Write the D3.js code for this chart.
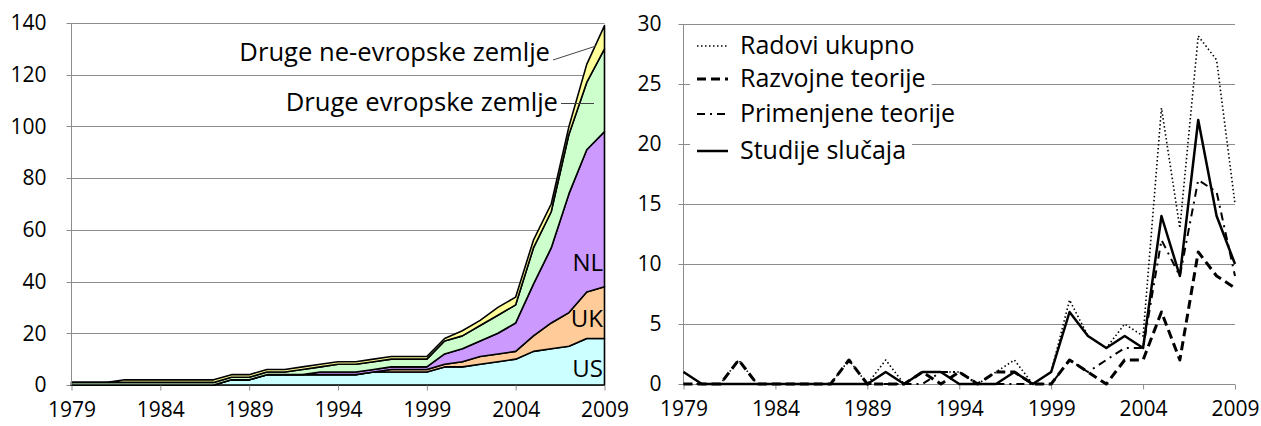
<!DOCTYPE html>
<html>
<head>
<meta charset="utf-8">
<script src="https://cdn.jsdelivr.net/npm/d3@7"></script>
<style>
  body { margin: 0; background: #fff; }
  text { font-family: "Open Sans", "Noto Sans", sans-serif; fill: #000; }
</style>
</head>
<body>
<div id="chart-area"></div>
<script>
// Years shared by both panels
var years = d3.range(1979, 2010);
var xTicks = [1979, 1984, 1989, 1994, 1999, 2004, 2009];

// Left panel: stacked areas (papers by country)
var countryKeys = ["US", "UK", "NL", "Druge evropske zemlje", "Druge ne-evropske zemlje"];
var usValues    = [0,0,0,0,0,0,0,0,0,2,2,4,4,4,4,4,4,5,5,5,5,7,7,8,9,10,13,14,15,18,18];
var ukValues    = [0,0,0,0,0,0,0,0,0,0,0,0,0,0,0,0,0,0,1,1,1,1,2,3,3,3,6,10,13,18,20];
var nlValues    = [0,0,0,0,0,0,0,0,0,0,0,0,0,0,1,1,1,1,1,1,1,4,5,6,8,11,20,29,46,55,60];
var euValues    = [1,1,1,1,1,1,1,1,1,1,1,1,1,2,2,3,3,3,3,3,3,5,5,6,7,7,14,14,23,26,32];
var nonEuValues = [0,0,0,1,1,1,1,1,1,1,1,1,1,1,1,1,1,1,1,1,1,1,2,2,3,3,3,3,3,7,9];
var countryColors = ["#ccffff", "#ffcc99", "#cc99ff", "#ccffcc", "#ffff99"];
var leftYTicks = [0, 20, 40, 60, 80, 100, 120, 140];

// Right panel: line series (papers by type)
var typeNames = ["Radovi ukupno", "Razvojne teorije", "Primenjene teorije", "Studije slučaja"];
var radoviUkupno  = [1,0,0,2,0,0,0,0,0,2,0,2,0,1,1,1,0,1,2,0,1,7,4,3,5,4,23,13,29,27,15];
var razvojne      = [0,0,0,2,0,0,0,0,0,2,0,0,0,1,0,1,0,1,1,0,0,2,1,0,2,2,6,2,11,9,8];
var primenjene    = [0,0,0,0,0,0,0,0,0,0,0,0,0,0,1,1,0,0,0,0,0,2,1,2,3,3,12,9,17,16,9];
var studijeSlucaja= [1,0,0,0,0,0,0,0,0,0,0,1,0,1,1,0,0,0,1,0,1,6,4,3,4,3,14,9,22,14,10];
var rightYTicks = [0, 5, 10, 15, 20, 25, 30];

var svg = d3.select("#chart-area").append("svg")
    .attr("width", 1261)
    .attr("height", 426);

var gridColor = "#8c8c8c";
var fontSize = 21;
var labelSize = 25;

/******************************** Left panel ********************************/

var xL = d3.scaleLinear().domain([1979, 2009]).range([71.5, 604.5]);
var yL = d3.scaleLinear().domain([0, 140]).range([385, 23]);

var gL = svg.append("g");

gL.selectAll(".grid")
    .data(leftYTicks)
    .enter().append("line")
    .attr("x1", xL.range()[0] - 5)
    .attr("x2", xL.range()[1])
    .attr("y1", function(d) { return Math.round(yL(d)) + 0.5; })
    .attr("y2", function(d) { return Math.round(yL(d)) + 0.5; })
    .attr("stroke", gridColor)
    .attr("stroke-width", 1);

var rows = years.map(function(yr, i) {
    return {
        year: yr,
        "US": usValues[i],
        "UK": ukValues[i],
        "NL": nlValues[i],
        "Druge evropske zemlje": euValues[i],
        "Druge ne-evropske zemlje": nonEuValues[i]
    };
});

var stack = d3.stack().keys(countryKeys);
var layers = stack(rows);

var area = d3.area()
    .x(function(d) { return xL(d.data.year); })
    .y0(function(d) { return yL(d[0]); })
    .y1(function(d) { return yL(d[1]); });

gL.selectAll(".layer")
    .data(layers)
    .enter().append("path")
    .attr("class", "layer")
    .attr("d", area)
    .attr("fill", function(d, i) { return countryColors[i]; })
    .attr("stroke", "#000")
    .attr("stroke-width", 1.6)
    .attr("stroke-linejoin", "round");

// Axes
gL.append("line")
    .attr("x1", xL.range()[0]).attr("x2", xL.range()[0])
    .attr("y1", yL(140)).attr("y2", yL(0))
    .attr("stroke", gridColor);

var xAxisL = gL.append("g")
    .attr("transform", "translate(0," + (Math.round(yL(0)) + 0.5) + ")")
    .call(d3.axisBottom(xL).tickValues(xTicks).tickFormat(d3.format("d")).tickSize(5).tickPadding(12));

var yAxisL = gL.append("g")
    .attr("transform", "translate(" + (xL.range()[0] - 25) + ",0)")
    .call(d3.axisLeft(yL).tickValues(leftYTicks).tickSize(0).tickPadding(0));

// Layer labels
gL.append("text").attr("x", 603).attr("y", 271).attr("text-anchor", "end")
    .style("font-size", "24px").text("NL");
gL.append("text").attr("x", 603).attr("y", 327).attr("text-anchor", "end")
    .style("font-size", "24px").text("UK");
gL.append("text").attr("x", 603).attr("y", 377).attr("text-anchor", "end")
    .style("font-size", "24px").text("US");

gL.append("text").attr("x", 550).attr("y", 61).attr("text-anchor", "end")
    .style("font-size", "25.6px").text("Druge ne-evropske zemlje");
gL.append("line")
    .attr("x1", 553).attr("y1", 60).attr("x2", 596).attr("y2", 46)
    .attr("stroke", "#444").attr("stroke-width", 1);

gL.append("text").attr("x", 558).attr("y", 111).attr("text-anchor", "end")
    .style("font-size", "25.6px").text("Druge evropske zemlje");
gL.append("line")
    .attr("x1", 561).attr("y1", 103.5).attr("x2", 594).attr("y2", 103.5)
    .attr("stroke", "#444").attr("stroke-width", 1);

/******************************** Right panel ********************************/

var xR = d3.scaleLinear().domain([1979, 2009]).range([683.5, 1235]);
var yR = d3.scaleLinear().domain([0, 30]).range([384, 24]);

var gR = svg.append("g");

gR.selectAll(".grid")
    .data(rightYTicks)
    .enter().append("line")
    .attr("x1", xR.range()[0] - 5)
    .attr("x2", xR.range()[1])
    .attr("y1", function(d) { return Math.round(yR(d)) + 0.5; })
    .attr("y2", function(d) { return Math.round(yR(d)) + 0.5; })
    .attr("stroke", gridColor)
    .attr("stroke-width", 1);

gR.append("line")
    .attr("x1", xR.range()[0]).attr("x2", xR.range()[0])
    .attr("y1", yR(30)).attr("y2", yR(0))
    .attr("stroke", gridColor);

var xAxisR = gR.append("g")
    .attr("transform", "translate(0," + (Math.round(yR(0)) + 0.5) + ")")
    .call(d3.axisBottom(xR).tickValues(xTicks).tickFormat(d3.format("d")).tickSize(5).tickPadding(12));

var yAxisR = gR.append("g")
    .attr("transform", "translate(" + (xR.range()[0] - 22) + ",0)")
    .call(d3.axisLeft(yR).tickValues(rightYTicks).tickSize(0).tickPadding(0));

// style the axes like the original (grey lines, large labels)
svg.selectAll(".domain").remove();
svg.selectAll(".tick line").attr("stroke", gridColor);
svg.selectAll(".tick text").style("font-size", fontSize + "px").attr("fill", "#000");

var series = [
    { name: typeNames[0], values: radoviUkupno,   width: 1.6, dash: "1.5,2.5" },
    { name: typeNames[1], values: razvojne,       width: 3,   dash: "9,5" },
    { name: typeNames[2], values: primenjene,     width: 2,   dash: "8,5,2,5" },
    { name: typeNames[3], values: studijeSlucaja, width: 2.5, dash: null }
];

var line = d3.line()
    .x(function(d, i) { return xR(years[i]); })
    .y(function(d) { return yR(d); });

gR.selectAll(".series")
    .data(series)
    .enter().append("path")
    .attr("class", "series")
    .attr("d", function(d) { return line(d.values); })
    .attr("fill", "none")
    .attr("stroke", "#000")
    .attr("stroke-width", function(d) { return d.width; })
    .attr("stroke-dasharray", function(d) { return d.dash; })
    .attr("stroke-linejoin", "round");

// Legend
var legendY = [46, 79, 114, 151];
var legend = gR.selectAll(".legend")
    .data(series)
    .enter().append("g")
    .attr("class", "legend")
    .attr("transform", function(d, i) { return "translate(0," + legendY[i] + ")"; });

legend.append("text")
    .attr("x", 740)
    .attr("y", 8)
    .style("font-size", labelSize + "px")
    .text(function(d) { return d.name; })
    .each(function() {
        var bb = this.getBBox();
        d3.select(this.parentNode).insert("rect", "text")
            .attr("x", 690)
            .attr("y", -14)
            .attr("width", bb.x + bb.width + 6 - 690)
            .attr("height", 28)
            .attr("fill", "#fff");
    });

legend.append("line")
    .attr("x1", 697).attr("x2", 728)
    .attr("y1", 0).attr("y2", 0)
    .attr("stroke", "#000")
    .attr("stroke-width", function(d) { return d.width; })
    .attr("stroke-dasharray", function(d) { return d.dash; });
</script>
</body>
</html>
